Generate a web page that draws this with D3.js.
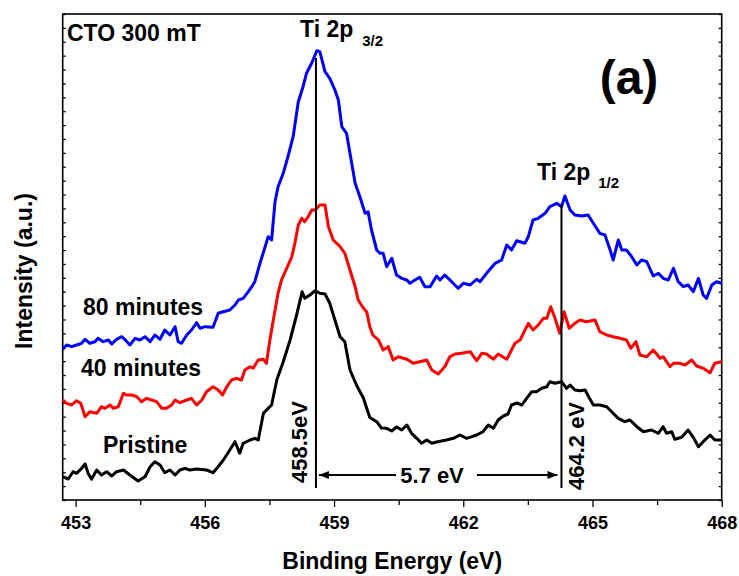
<!DOCTYPE html>
<html>
<head>
<meta charset="utf-8">
<script src="https://cdn.jsdelivr.net/npm/d3@7"></script>
<style>
  body { margin: 0; background: #fff; }
  text { font-family: Arial, "Liberation Sans", sans-serif; font-weight: bold; fill: #000; }
</style>
</head>
<body>
<svg id="chart" width="739" height="576"></svg>
<script>
// XPS Ti 2p spectra, [binding energy (eV), intensity (a.u.)]
const pristine = [
  [452.70, 2.33], [452.83, 2.10], [452.94, 2.83], [453.02, 2.67], [453.14, 3.17], [453.22, 3.60],
  [453.29, 2.67], [453.37, 2.07], [453.49, 3.00], [453.60, 2.50], [453.72, 2.83], [453.84, 2.40],
  [453.95, 2.83], [454.11, 3.00], [454.26, 2.50], [454.45, 1.90], [454.61, 2.33], [454.73, 3.33],
  [454.84, 3.83], [454.96, 3.50], [455.07, 2.73], [455.19, 3.00], [455.31, 2.50], [455.42, 3.00],
  [455.54, 3.17], [455.65, 3.00], [455.81, 3.10], [456.04, 3.00], [456.19, 2.73], [456.31, 3.33],
  [456.43, 4.00], [456.58, 5.00], [456.70, 5.83], [456.81, 4.67], [456.89, 5.67], [457.05, 6.00],
  [457.16, 6.17], [457.24, 6.00], [457.36, 8.67], [457.47, 9.17], [457.55, 9.50], [457.67, 12.0],
  [457.82, 13.83], [457.98, 16.0], [458.13, 18.5], [458.26, 20.83], [458.32, 20.17], [458.44, 20.5],
  [458.56, 20.93], [458.67, 20.67], [458.79, 20.6], [458.90, 19.67], [459.02, 18.0], [459.14, 16.33],
  [459.25, 15.83], [459.37, 13.0], [459.52, 11.5], [459.68, 10.2], [459.83, 8.25], [459.99, 7.83],
  [460.10, 7.20], [460.22, 7.17], [460.34, 6.90], [460.45, 7.30], [460.57, 7.00], [460.69, 7.50],
  [460.80, 6.67], [460.92, 6.17], [461.03, 5.67], [461.15, 6.00], [461.27, 5.67], [461.38, 5.80],
  [461.61, 6.00], [461.77, 6.17], [461.92, 6.50], [462.08, 6.17], [462.31, 6.50], [462.46, 6.83],
  [462.58, 7.50], [462.70, 7.17], [462.81, 8.00], [462.93, 8.40], [463.04, 8.60], [463.12, 9.50],
  [463.24, 9.70], [463.36, 9.50], [463.47, 10.17], [463.59, 10.83], [463.70, 10.83], [463.82, 11.17],
  [463.94, 11.33], [464.01, 11.83], [464.13, 11.67], [464.28, 11.83], [464.40, 11.17], [464.48, 11.5],
  [464.59, 11.0], [464.71, 10.93], [464.83, 11.0], [464.90, 10.4], [465.02, 9.50], [465.17, 9.50],
  [465.33, 9.33], [465.48, 8.67], [465.60, 8.17], [465.75, 7.83], [465.87, 8.00], [466.03, 7.33],
  [466.18, 6.83], [466.37, 7.00], [466.53, 6.67], [466.64, 7.33], [466.72, 6.67], [466.84, 6.83],
  [466.91, 6.07], [467.07, 6.27], [467.22, 7.00], [467.34, 6.27], [467.46, 5.33], [467.57, 5.83],
  [467.73, 6.50], [467.84, 6.00], [468.00, 6.00]
];

const min40 = [
  [452.70, 10.0], [452.79, 9.67], [452.91, 9.50], [453.02, 9.93], [453.12, 9.67], [453.22, 8.33],
  [453.33, 8.83], [453.49, 8.67], [453.60, 9.33], [453.68, 9.17], [453.80, 9.50], [453.87, 9.17],
  [453.99, 9.33], [454.11, 10.67], [454.18, 10.5], [454.30, 10.5], [454.42, 10.33], [454.53, 9.83],
  [454.65, 10.17], [454.76, 10.0], [454.88, 9.83], [455.00, 9.17], [455.11, 9.17], [455.23, 9.50],
  [455.31, 10.0], [455.42, 9.73], [455.58, 10.0], [455.69, 10.17], [455.81, 9.50], [455.93, 10.0],
  [456.04, 10.83], [456.19, 11.33], [456.31, 11.0], [456.41, 10.5], [456.51, 11.33], [456.62, 12.0],
  [456.74, 12.17], [456.85, 12.0], [456.93, 13.0], [457.05, 13.33], [457.12, 13.17], [457.24, 14.0],
  [457.36, 14.07], [457.43, 13.67], [457.51, 16.0], [457.59, 18.0], [457.70, 20.67], [457.78, 22.0],
  [457.90, 23.17], [458.02, 24.33], [458.09, 25.67], [458.17, 27.5], [458.25, 28.17], [458.32, 27.83],
  [458.40, 28.33], [458.48, 29.0], [458.56, 29.0], [458.67, 29.5], [458.79, 29.5], [458.87, 27.33],
  [458.98, 26.0], [459.14, 25.33], [459.25, 24.67], [459.37, 23.0], [459.49, 21.33], [459.56, 20.0],
  [459.68, 19.2], [459.76, 18.8], [459.83, 17.33], [459.90, 16.5], [460.03, 16.0], [460.14, 15.0],
  [460.26, 15.33], [460.37, 14.0], [460.49, 14.33], [460.69, 14.07], [460.84, 13.67], [460.99, 13.83],
  [461.15, 14.0], [461.27, 13.0], [461.42, 12.6], [461.57, 13.33], [461.69, 14.33], [461.81, 14.6],
  [461.96, 14.67], [462.16, 14.83], [462.31, 13.93], [462.43, 14.67], [462.54, 14.6], [462.70, 14.07],
  [462.81, 14.6], [463.01, 14.07], [463.20, 15.67], [463.32, 16.0], [463.51, 17.67], [463.62, 17.0],
  [463.74, 17.5], [463.86, 18.17], [463.94, 18.17], [464.03, 19.33], [464.13, 18.17], [464.24, 16.67],
  [464.34, 18.83], [464.46, 17.17], [464.59, 17.67], [464.71, 18.0], [464.86, 17.83], [465.06, 18.0],
  [465.17, 16.83], [465.33, 16.5], [465.48, 16.33], [465.64, 16.17], [465.79, 16.0], [465.89, 15.17],
  [466.01, 15.83], [466.10, 14.5], [466.26, 14.33], [466.41, 15.0], [466.57, 14.17], [466.64, 14.33],
  [466.80, 13.33], [466.88, 13.67], [467.03, 13.67], [467.15, 13.5], [467.30, 14.0], [467.42, 13.4],
  [467.57, 13.17], [467.73, 12.73], [467.84, 13.67], [468.00, 13.83]
];

const min80 = [
  [452.70, 15.07], [452.79, 15.5], [452.91, 15.33], [453.02, 15.5], [453.14, 15.67], [453.22, 16.07],
  [453.33, 15.67], [453.45, 15.83], [453.52, 16.17], [453.64, 15.83], [453.76, 16.0], [453.84, 15.6],
  [453.95, 16.07], [454.07, 16.33], [454.14, 16.07], [454.26, 15.5], [454.38, 16.17], [454.49, 16.0],
  [454.61, 16.33], [454.73, 15.83], [454.84, 16.5], [454.96, 16.07], [455.07, 17.0], [455.19, 16.5],
  [455.31, 17.33], [455.38, 15.83], [455.46, 15.67], [455.58, 16.5], [455.69, 17.0], [455.81, 17.73],
  [455.89, 17.17], [456.00, 17.33], [456.19, 17.27], [456.31, 18.67], [456.43, 18.83], [456.58, 19.0],
  [456.70, 19.5], [456.78, 20.0], [456.89, 20.17], [457.01, 20.83], [457.09, 21.33], [457.16, 21.83],
  [457.28, 23.67], [457.40, 25.33], [457.47, 26.33], [457.55, 26.0], [457.63, 29.83], [457.70, 31.33],
  [457.82, 32.67], [457.94, 34.5], [458.05, 36.33], [458.17, 39.83], [458.28, 41.33], [458.36, 42.67],
  [458.48, 43.67], [458.60, 44.93], [458.67, 44.83], [458.79, 42.83], [458.90, 42.17], [459.02, 41.0],
  [459.10, 40.0], [459.18, 37.33], [459.29, 36.67], [459.41, 33.67], [459.49, 31.67], [459.60, 30.33],
  [459.72, 28.67], [459.79, 28.83], [459.87, 27.0], [459.99, 25.0], [460.07, 24.67], [460.14, 24.67],
  [460.22, 23.33], [460.34, 24.17], [460.45, 22.5], [460.57, 22.17], [460.69, 22.0], [460.76, 21.67],
  [460.88, 22.0], [460.99, 22.27], [461.11, 21.33], [461.23, 21.33], [461.38, 22.4], [461.46, 22.0],
  [461.57, 22.5], [461.73, 21.83], [461.88, 21.17], [462.00, 21.67], [462.16, 21.5], [462.31, 22.07],
  [462.39, 21.83], [462.54, 22.67], [462.74, 23.67], [462.89, 24.0], [463.01, 25.5], [463.12, 25.0],
  [463.24, 25.93], [463.43, 25.67], [463.51, 26.33], [463.62, 28.0], [463.74, 28.17], [463.90, 28.67],
  [464.01, 29.33], [464.17, 29.67], [464.28, 29.33], [464.36, 30.4], [464.48, 29.0], [464.59, 28.5],
  [464.75, 28.4], [464.90, 28.5], [465.02, 27.67], [465.17, 26.67], [465.29, 26.5], [465.41, 25.0],
  [465.48, 24.0], [465.60, 26.0], [465.68, 25.0], [465.79, 25.0], [465.91, 24.33], [466.03, 23.5],
  [466.14, 24.0], [466.26, 23.83], [466.41, 22.4], [466.53, 22.67], [466.64, 22.17], [466.76, 22.0],
  [466.88, 23.17], [466.99, 21.83], [467.11, 21.33], [467.22, 21.5], [467.34, 20.83], [467.46, 22.17],
  [467.57, 20.5], [467.65, 20.17], [467.77, 21.5], [467.88, 21.83], [468.00, 21.67]
];

const xMajorTicks = [453, 456, 459, 462, 465, 468];
const xMinorTicks = [454.5, 457.5, 460.5, 463.5, 466.5];
// peak markers: [energy, top intensity, label]
const peakLines = [[458.58, 44.2, "458.5eV"], [464.28, 29.5, "464.2 eV"]];

const svg = d3.select("#chart");
const pLeft = 62.7, pRight = 721.7, pTop = 14, pBottom = 500;

const x = d3.scaleLinear().domain([452.7, 468.0]).range([pLeft, pRight]);
const y = d3.scaleLinear().domain([0, 48.6]).range([pBottom, pTop]);
const yTickVals = d3.range(0, 36).map(i => i * 48.6 / 35);

const line = d3.line().x(d => x(d[0])).y(d => y(d[1]));

// axes
const xAxis = svg.append("g").attr("transform", `translate(0,${pBottom})`)
  .call(d3.axisBottom(x).tickValues(xMajorTicks).tickFormat(d3.format("d")).tickSize(7).tickPadding(9));
xAxis.selectAll("text").style("font-size", "18px");
svg.append("g").attr("transform", `translate(0,${pBottom})`)
  .call(d3.axisBottom(x).tickValues(xMinorTicks).tickFormat("").tickSize(5));
svg.append("g").attr("transform", `translate(${pLeft},0)`)
  .call(d3.axisRight(y).tickValues(yTickVals).tickFormat("").tickSize(3));
svg.append("g").attr("transform", `translate(${pRight},0)`)
  .call(d3.axisLeft(y).tickValues(yTickVals).tickFormat("").tickSize(3));
svg.selectAll(".domain").remove();
svg.selectAll(".tick line").attr("stroke", "#000").attr("stroke-width", 1.3);

svg.append("rect")
  .attr("x", pLeft).attr("y", pTop)
  .attr("width", pRight - pLeft).attr("height", pBottom - pTop)
  .attr("fill", "none").attr("stroke", "#000").attr("stroke-width", 1.6);

// spectra
[[pristine, "#000000"], [min40, "#ff0000"], [min80, "#0000ff"]].forEach(([data, color]) => {
  svg.append("path").datum(data)
    .attr("d", line)
    .attr("fill", "none")
    .attr("stroke", color)
    .attr("stroke-width", 3)
    .attr("stroke-linejoin", "round");
});

// peak lines and labels
peakLines.forEach(([e, t]) => {
  svg.append("line")
    .attr("x1", x(e)).attr("x2", x(e))
    .attr("y1", y(t)).attr("y2", y(1.2))
    .attr("stroke", "#000").attr("stroke-width", 2);
});
svg.append("text").attr("transform", `translate(307,442) rotate(-90)`)
  .attr("text-anchor", "middle").style("font-size", "22px").text(peakLines[0][2]);
svg.append("text").attr("transform", `translate(584,446) rotate(-90)`)
  .attr("text-anchor", "middle").style("font-size", "22px").text(peakLines[1][2]);

// 5.7 eV arrows
svg.append("defs").append("marker")
  .attr("id", "arr").attr("viewBox", "0 0 10 8").attr("refX", 10).attr("refY", 4)
  .attr("markerWidth", 10).attr("markerHeight", 8).attr("markerUnits", "userSpaceOnUse")
  .attr("orient", "auto")
  .append("path").attr("d", "M0,0L10,4L0,8Z").attr("fill", "#000");
const ay = y(2.5);
svg.append("line").attr("x1", 396).attr("x2", x(peakLines[0][0]) + 3).attr("y1", ay).attr("y2", ay)
  .attr("stroke", "#000").attr("stroke-width", 2).attr("marker-end", "url(#arr)");
svg.append("line").attr("x1", 477).attr("x2", x(peakLines[1][0]) - 4).attr("y1", ay).attr("y2", ay)
  .attr("stroke", "#000").attr("stroke-width", 2).attr("marker-end", "url(#arr)");
svg.append("text").attr("x", 432).attr("y", ay + 8).attr("text-anchor", "middle")
  .style("font-size", "22px").text("5.7 eV");

// annotations
svg.append("text").attr("x", 67).attr("y", 41).style("font-size", "23px").text("CTO 300 mT");
svg.append("text").attr("x", 629).attr("y", 94).attr("text-anchor", "middle").style("font-size", "48px").text("(a)");

const t1 = svg.append("text").attr("x", 300).attr("y", 37).style("font-size", "23px");
t1.append("tspan").text("Ti 2p");
t1.append("tspan").attr("dx", 9).attr("dy", 9).style("font-size", "15px").text("3/2");
const t2 = svg.append("text").attr("x", 537).attr("y", 180).style("font-size", "23px");
t2.append("tspan").text("Ti 2p");
t2.append("tspan").attr("dx", 8).attr("dy", 8).style("font-size", "15px").text("1/2");

svg.append("text").attr("x", 83).attr("y", 315).style("font-size", "23px").text("80 minutes");
svg.append("text").attr("x", 81).attr("y", 376).style("font-size", "23px").text("40 minutes");
svg.append("text").attr("x", 103).attr("y", 453).style("font-size", "23px").text("Pristine");

// axis titles
svg.append("text").attr("x", (pLeft + pRight) / 2).attr("y", 569).attr("text-anchor", "middle")
  .style("font-size", "23px").text("Binding Energy (eV)");
svg.append("text").attr("transform", `translate(32,${(pTop + pBottom) / 2 + 14}) rotate(-90)`)
  .attr("text-anchor", "middle").style("font-size", "23px").text("Intensity (a.u.)");
</script>
</body>
</html>
